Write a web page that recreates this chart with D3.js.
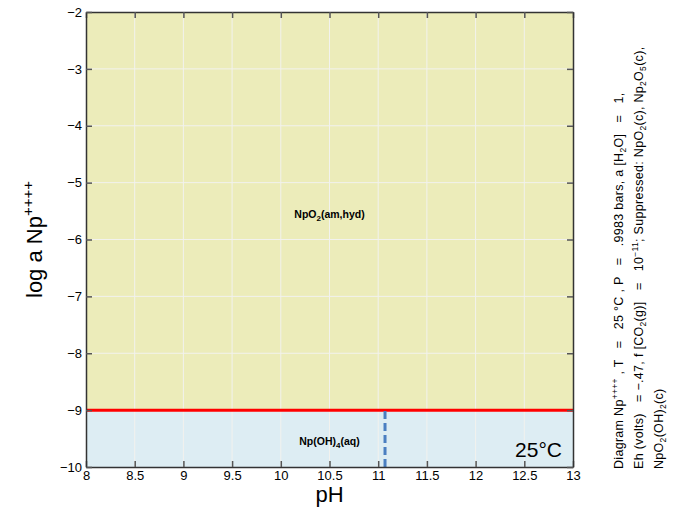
<!DOCTYPE html>
<html>
<head>
<meta charset="utf-8">
<script src="https://cdn.jsdelivr.net/npm/d3@7"></script>
<style>
  body { margin: 0; background: #fff; }
  svg { display: block; font-family: "Liberation Sans", Arial, sans-serif; }
  .cap text { white-space: pre; letter-spacing: 0.3px; }
</style>
</head>
<body>
<svg id="chart" width="673" height="508"></svg>
<script>
// Axis extents and tick values
const xDomain = [8, 13];
const yDomain = [-10, -2];
const xTicks = [8, 8.5, 9, 9.5, 10, 10.5, 11, 11.5, 12, 12.5, 13];
const xTickLabels = ["8", "8.5", "9", "9.5", "10", "10.5", "11", "11.5", "12", "12.5", "13"];
const yTicks = [-10, -9, -8, -7, -6, -5, -4, -3, -2];

// Stability fields (pH range x log activity range)
const fieldNames = ["NpO2(am,hyd)", "Np(OH)4(aq)"];
const fieldX = [[8, 13], [8, 13]];
const fieldY = [[-9, -2], [-10, -9]];
const fieldColors = ["#ececba", "#ddedf3"];
const labelPos = [[10.5, -5.62], [10.5, -9.61]];

// Boundaries
const solubilityLine = { x: [8, 13], y: [-9, -9] };
const aqueousBoundary = { x: [11.07, 11.07], y: [-10, -9] };

const svg = d3.select("#chart");
const margin = { left: 86, top: 12, right: 100, bottom: 41 };
const W = 673, H = 508;
const x = d3.scaleLinear().domain(xDomain).range([margin.left, W - margin.right]);
const y = d3.scaleLinear().domain(yDomain).range([H - margin.bottom, margin.top]);

// fields
fieldNames.forEach((n, i) => {
  svg.append("rect")
    .attr("x", x(fieldX[i][0])).attr("y", y(fieldY[i][1]))
    .attr("width", x(fieldX[i][1]) - x(fieldX[i][0]))
    .attr("height", y(fieldY[i][0]) - y(fieldY[i][1]))
    .attr("fill", fieldColors[i]);
});

// grid
const grid = svg.append("g").attr("stroke", "#f2f2ee").attr("stroke-width", 1);
xTicks.slice(1, -1).forEach(t => grid.append("line")
  .attr("x1", x(t)).attr("x2", x(t)).attr("y1", y(yDomain[0])).attr("y2", y(yDomain[1])));
yTicks.slice(1, -1).forEach(t => grid.append("line")
  .attr("y1", y(t)).attr("y2", y(t)).attr("x1", x(xDomain[0])).attr("x2", x(xDomain[1])));

// boundaries
const line = d3.line().x(d => x(d[0])).y(d => y(d[1]));
svg.append("path")
  .attr("d", line(solubilityLine.x.map((v, i) => [v, solubilityLine.y[i]])))
  .attr("stroke", "#ff0000").attr("stroke-width", 3).attr("fill", "none");
svg.append("path")
  .attr("d", line(aqueousBoundary.x.map((v, i) => [v, aqueousBoundary.y[i]])))
  .attr("stroke", "#4a7fc1").attr("stroke-width", 3).attr("stroke-dasharray", "8,4").attr("fill", "none");

// axes (ticks inward)
const tickLen = 6;
const axisStyle = g => {
  g.selectAll(".domain").attr("stroke", "#333").attr("stroke-width", 1.5);
  g.selectAll(".tick line").attr("stroke", "#555").attr("stroke-width", 1.5);
  g.selectAll("text").attr("fill", "#000").style("font-size", "13px");
};
svg.append("g").attr("transform", `translate(0,${y(yDomain[0])})`)
  .call(d3.axisBottom(x).tickValues(xTicks).tickFormat((d, i) => xTickLabels[i])
    .tickSizeInner(-tickLen).tickSizeOuter(0).tickPadding(4))
  .call(axisStyle);
svg.append("g").attr("transform", `translate(0,${y(yDomain[1])})`)
  .call(d3.axisTop(x).tickValues(xTicks).tickFormat("").tickSizeInner(-tickLen).tickSizeOuter(0))
  .call(axisStyle);
svg.append("g").attr("transform", `translate(${x(xDomain[0])},0)`)
  .call(d3.axisLeft(y).tickValues(yTicks).tickFormat(d => "\u2212" + Math.abs(d))
    .tickSizeInner(-tickLen).tickSizeOuter(0).tickPadding(4))
  .call(axisStyle);
svg.append("g").attr("transform", `translate(${x(xDomain[1])},0)`)
  .call(d3.axisRight(y).tickValues(yTicks).tickFormat("").tickSizeInner(-tickLen).tickSizeOuter(0))
  .call(axisStyle);

// field labels
const lab1 = svg.append("text").attr("x", x(labelPos[0][0])).attr("y", y(labelPos[0][1]))
  .attr("text-anchor", "middle").style("font-size", "10.5px").style("font-weight", "bold");
lab1.append("tspan").text("NpO");
lab1.append("tspan").text("2").attr("dy", 3).style("font-size", "8px");
lab1.append("tspan").text("(am,hyd)").attr("dy", -3);

const lab2 = svg.append("text").attr("x", x(labelPos[1][0])).attr("y", y(labelPos[1][1]))
  .attr("text-anchor", "middle").style("font-size", "10.5px").style("font-weight", "bold");
lab2.append("tspan").text("Np(OH)");
lab2.append("tspan").text("4").attr("dy", 3).style("font-size", "8px");
lab2.append("tspan").text("(aq)").attr("dy", -3);

// temperature tag
svg.append("text").attr("x", x(13) - 11).attr("y", 457)
  .attr("text-anchor", "end").style("font-size", "21px").text("25°C");

// axis titles
svg.append("text").attr("x", x(10.5)).attr("y", 502)
  .attr("text-anchor", "middle").style("font-size", "22px").text("pH");
const yl = svg.append("text").attr("transform", `translate(42,${y(-6)}) rotate(-90)`)
  .attr("text-anchor", "middle").style("font-size", "22px");
yl.append("tspan").text("log a Np");
yl.append("tspan").text("++++").attr("dy", -9).style("font-size", "15px");

// side caption (rotated)
const cap = svg.append("g").attr("class", "cap")
  .attr("transform", `translate(0,${y(-10) + 2}) rotate(-90)`)
  .style("font-size", "12.5px");
const l1 = cap.append("text").attr("x", 0).attr("y", 623);
l1.append("tspan").text("Diagram Np");
l1.append("tspan").text("++++").attr("dy", -5).style("font-size", "8.5px");
l1.append("tspan").text(" , T   =   25 °C , P   =   .9983 bars, a [H").attr("dy", 5);
l1.append("tspan").text("2").attr("dy", 3).style("font-size", "8.5px");
l1.append("tspan").text("O]   =   1,").attr("dy", -3);

const l2 = cap.append("text").attr("x", 0).attr("y", 643);
l2.append("tspan").text("Eh (volts)   = \u2212.47, f [CO");
l2.append("tspan").text("2").attr("dy", 3).style("font-size", "8.5px");
l2.append("tspan").text("(g)]   =   10").attr("dy", -3);
l2.append("tspan").text("\u221211").attr("dy", -5).style("font-size", "8.5px");
l2.append("tspan").text("; Suppressed: NpO").attr("dy", 5);
l2.append("tspan").text("2").attr("dy", 3).style("font-size", "8.5px");
l2.append("tspan").text("(c), Np").attr("dy", -3);
l2.append("tspan").text("2").attr("dy", 3).style("font-size", "8.5px");
l2.append("tspan").text("O").attr("dy", -3);
l2.append("tspan").text("5").attr("dy", 3).style("font-size", "8.5px");
l2.append("tspan").text("(c),").attr("dy", -3);

const l3 = cap.append("text").attr("x", 0).attr("y", 663);
l3.append("tspan").text("NpO");
l3.append("tspan").text("2").attr("dy", 3).style("font-size", "8.5px");
l3.append("tspan").text("(OH)").attr("dy", -3);
l3.append("tspan").text("2").attr("dy", 3).style("font-size", "8.5px");
l3.append("tspan").text("(c)").attr("dy", -3);
</script>
</body>
</html>
